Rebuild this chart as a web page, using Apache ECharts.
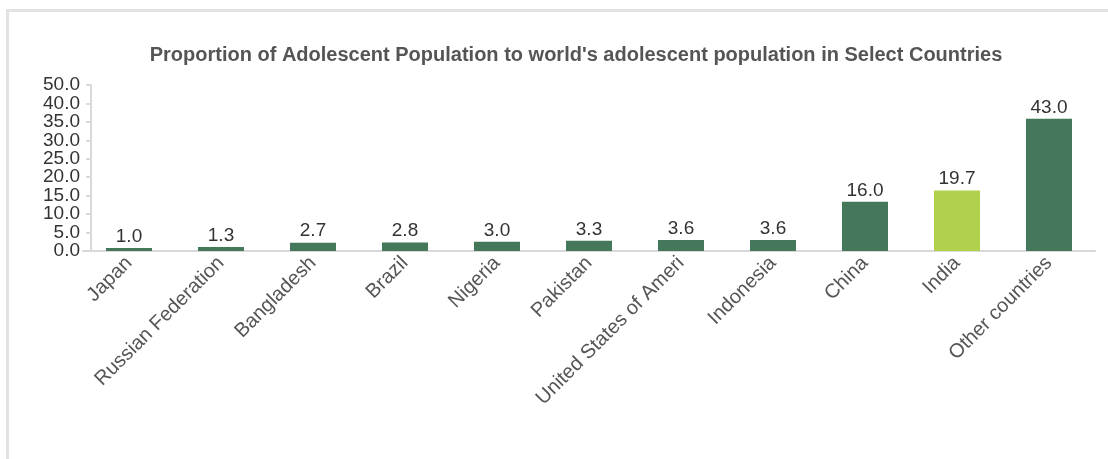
<!DOCTYPE html>
<html>
<head>
<meta charset="utf-8">
<script src="https://cdn.jsdelivr.net/npm/echarts@6/dist/echarts.min.js"></script>
<style>
html,body{margin:0;padding:0;background:#fff;}
#frame{position:absolute;left:6px;top:9px;width:1200px;height:500px;border-top:3px solid #e2e2e2;border-left:3px solid #e2e2e2;box-sizing:border-box;}
#chart{position:absolute;left:0;top:0;width:1108px;height:459px;}
</style>
</head>
<body>
<div id="frame"></div>
<div id="chart"></div>
<script>
const categories = ["Japan","Russian Federation","Bangladesh","Brazil","Nigeria","Pakistan","United States of America","Indonesia","China","India","Other countries"];
const values = [1.0,1.3,2.7,2.8,3.0,3.3,3.6,3.6,16.0,19.7,43.0];
const highlighted = ["India"];
const tickLabels = ["0.0","5.0","10.0","15.0","20.0","25.0","30.0","35.0","40.0","50.0"];
const tickStep = 6;
const tickValues = tickLabels.map((_, i) => i * tickStep);
const evenTicks = tickValues.filter((_, i) => i % 2 === 0);
const oddTicks = tickValues.filter((_, i) => i % 2 === 1);

const labelStyle = {
  margin:11, hideOverlap:false, showMinLabel:true, showMaxLabel:true,
  color:'#333', fontSize:19, fontFamily:'Liberation Sans, Arial, sans-serif',
  formatter:function(v){return tickLabels[Math.round(v/tickStep)];}
};

const chart = echarts.init(document.getElementById('chart'));
chart.setOption({
  animation:false,
  title:{
    text:"Proportion of Adolescent Population to world's adolescent population in Select Countries",
    left:571, top:40, textAlign:'center',
    textStyle:{fontFamily:'Liberation Sans, Arial, sans-serif',fontSize:20,fontWeight:'bold',color:'#555'}
  },
  grid:{left:83,right:13,top:85,bottom:208,containLabel:false},
  xAxis:{
    type:'category',
    data:categories,
    axisLine:{lineStyle:{color:'#d9d9d9',width:2}},
    axisTick:{show:false},
    axisLabel:{
      rotate:45, interval:0, margin:9,
      color:'#555', fontSize:20, fontFamily:'Liberation Sans, Arial, sans-serif',
      width:212, overflow:'truncate', ellipsis:''
    }
  },
  yAxis:[{
    type:'value', position:'left', min:0, max:54, interval:6, offset:-8,
    axisLine:{show:true,lineStyle:{color:'#d9d9d9',width:2}},
    axisTick:{show:true,length:5,lineStyle:{color:'#d9d9d9',width:2}},
    splitLine:{show:false},
    axisLabel:Object.assign({customValues:evenTicks}, labelStyle)
  },{
    type:'value', position:'left', min:0, max:54, interval:6, offset:-8,
    axisLine:{show:false},
    axisTick:{show:false},
    splitLine:{show:false},
    axisLabel:Object.assign({customValues:oddTicks}, labelStyle)
  }],
  series:[{
    type:'bar',
    yAxisIndex:0,
    barWidth:46,
    data:values.map((v,i)=>({value:v,itemStyle:{color:highlighted.includes(categories[i])?'#b1d14d':'#45785a'}})),
    label:{
      show:true, position:'top', distance:2,
      color:'#333', fontSize:19, fontFamily:'Liberation Sans, Arial, sans-serif',
      formatter:function(p){return p.value.toFixed(1);}
    }
  }]
});
</script>
</body>
</html>
